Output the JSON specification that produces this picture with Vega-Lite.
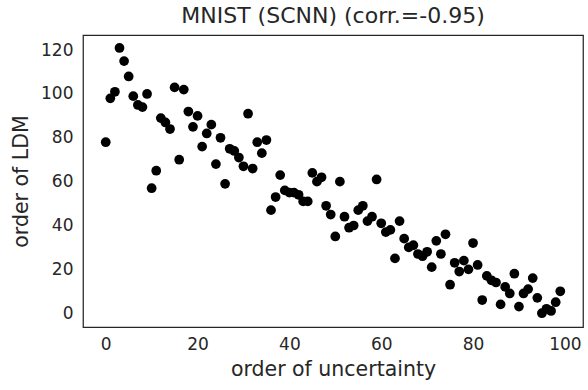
{
  "$schema": "https://vega.github.io/schema/vega-lite/v6.json",
  "width": 500,
  "height": 292,
  "autosize": "none",
  "padding": {"left": 83, "top": 35, "right": 5, "bottom": 63},
  "background": "white",
  "title": {"text": "MNIST (SCNN) (corr.=-0.95)", "font": "DejaVu Sans", "fontSize": 22, "fontWeight": "normal", "color": "#262626", "offset": 7},
  "data": {"values": [
    {"u":0,"l":78},{"u":1,"l":98},{"u":2,"l":101},{"u":3,"l":121},{"u":4,"l":115},{"u":5,"l":108},{"u":6,"l":99},{"u":7,"l":95},{"u":8,"l":94},{"u":9,"l":100},
    {"u":10,"l":57},{"u":11,"l":65},{"u":12,"l":89},{"u":13,"l":87},{"u":14,"l":84},{"u":15,"l":103},{"u":16,"l":70},{"u":17,"l":102},{"u":18,"l":92},{"u":19,"l":85},
    {"u":20,"l":90},{"u":21,"l":76},{"u":22,"l":82},{"u":23,"l":86},{"u":24,"l":68},{"u":25,"l":80},{"u":26,"l":59},{"u":27,"l":75},{"u":28,"l":74},{"u":29,"l":71},
    {"u":30,"l":67},{"u":31,"l":91},{"u":32,"l":66},{"u":33,"l":78},{"u":34,"l":73},{"u":35,"l":79},{"u":36,"l":47},{"u":37,"l":53},{"u":38,"l":63},{"u":39,"l":56},
    {"u":40,"l":55},{"u":41,"l":55},{"u":42,"l":54},{"u":43,"l":51},{"u":44,"l":51},{"u":45,"l":64},{"u":46,"l":60},{"u":47,"l":62},{"u":48,"l":49},{"u":49,"l":45},
    {"u":50,"l":35},{"u":51,"l":60},{"u":52,"l":44},{"u":53,"l":39},{"u":54,"l":40},{"u":55,"l":47},{"u":56,"l":49},{"u":57,"l":42},{"u":58,"l":44},{"u":59,"l":61},
    {"u":60,"l":41},{"u":61,"l":37},{"u":62,"l":38},{"u":63,"l":25},{"u":64,"l":42},{"u":65,"l":34},{"u":66,"l":30},{"u":67,"l":31},{"u":68,"l":27},{"u":69,"l":26},
    {"u":70,"l":28},{"u":71,"l":21},{"u":72,"l":33},{"u":73,"l":27},{"u":74,"l":36},{"u":75,"l":13},{"u":76,"l":23},{"u":77,"l":19},{"u":78,"l":24},{"u":79,"l":20},
    {"u":80,"l":32},{"u":81,"l":22},{"u":82,"l":6},{"u":83,"l":17},{"u":84,"l":15},{"u":85,"l":14},{"u":86,"l":4},{"u":87,"l":12},{"u":88,"l":9},{"u":89,"l":18},
    {"u":90,"l":3},{"u":91,"l":9},{"u":92,"l":11},{"u":93,"l":16},{"u":94,"l":7},{"u":95,"l":0},{"u":96,"l":2},{"u":97,"l":1},{"u":98,"l":5},{"u":99,"l":10}
  ]},
  "mark": {"type": "point", "filled": true, "shape": "circle", "size": 95, "color": "black", "opacity": 1},
  "encoding": {
    "x": {"field": "u", "type": "quantitative", "title": "order of uncertainty",
      "scale": {"domain": [-4.95, 103.95], "nice": false, "zero": false},
      "axis": {"values": [0, 20, 40, 60, 80, 100], "grid": false, "domain": false, "ticks": false, "labelPadding": 9, "titlePadding": 7}},
    "y": {"field": "l", "type": "quantitative", "title": "order of LDM",
      "scale": {"domain": [-6.3, 126.9], "nice": false, "zero": false},
      "axis": {"values": [0, 20, 40, 60, 80, 100, 120], "grid": false, "domain": false, "ticks": false, "labelPadding": 10, "titlePadding": 9}}
  },
  "config": {
    "view": {"stroke": "#262626", "strokeWidth": 1.25},
    "font": "DejaVu Sans",
    "axis": {"labelFont": "DejaVu Sans", "labelFontSize": 17, "labelColor": "#262626", "titleFont": "DejaVu Sans", "titleFontSize": 20.5, "titleFontWeight": "normal", "titleColor": "#262626"}
  }
}
